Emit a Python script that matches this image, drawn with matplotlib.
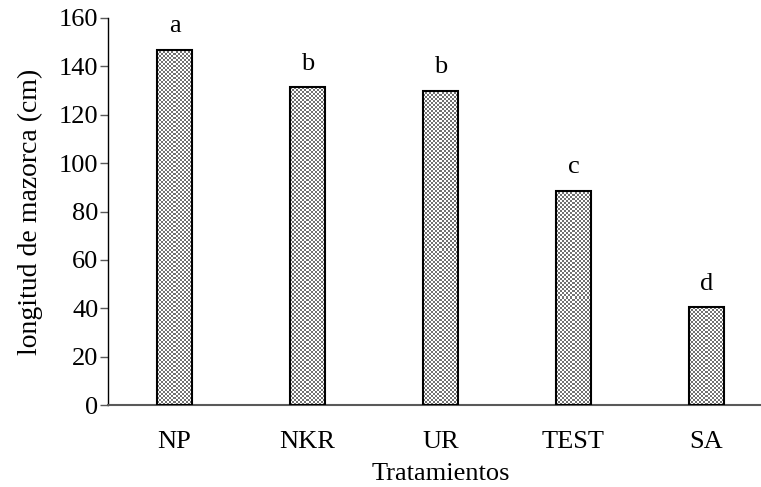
import numpy as np
import matplotlib.pyplot as plt

plt.rcParams['font.family'] = ['Liberation Serif', 'DejaVu Serif']

tratamientos = ["NP", "NKR", "UR", "TEST", "SA"]
longitud = [146.8, 131.3, 129.9, 88.5, 40.5]
letras = ["a", "b", "b", "c", "d"]

fs = 19

fig = plt.figure(figsize=(7.61, 4.87), dpi=100)
ax = fig.add_axes([108 / 761, 82 / 487, 665 / 761, 387 / 487])

x = np.arange(len(tratamientos))
bars = ax.bar(x, longitud, width=0.26, facecolor="none", edgecolor="black",
              linewidth=1.5, zorder=3)

ax.set_xlim(-0.5, len(tratamientos) - 0.5)
ax.set_ylim(0, 160)
ax.set_yticks(np.arange(0, 161, 20))
ax.set_xticks(x)
ax.set_xticklabels(tratamientos)

# fine checkerboard fill inside each bar
fig.canvas.draw()
renderer = fig.canvas.get_renderer()
for b in bars:
    ext = b.get_window_extent(renderer)
    nx = max(int(round(ext.width / 2)), 1)
    ny = max(int(round(ext.height / 2)), 1)
    yy, xx = np.indices((ny, nx))
    board = ((xx + yy) % 2).astype(float)
    im = ax.imshow(board, cmap="gray", vmin=-0.8, vmax=1.0,
                   extent=[b.get_x(), b.get_x() + b.get_width(), 0, b.get_height()],
                   interpolation="nearest", aspect="auto", zorder=2)
    im.set_clip_path(b)

ax.set_xlim(-0.5, len(tratamientos) - 0.5)
ax.set_ylim(0, 160)

for b, txt in zip(bars, letras):
    ax.annotate(txt, (b.get_x() + b.get_width() / 2, b.get_height()),
                xytext=(0, 9), textcoords="offset points",
                ha="center", va="bottom", fontsize=fs)

ax.spines["top"].set_visible(False)
ax.spines["right"].set_visible(False)
ax.spines["left"].set_linewidth(1.0)
ax.spines["bottom"].set_color("#595959")
ax.spines["bottom"].set_linewidth(1.5)

ax.tick_params(axis="y", length=6, width=1, color="#595959", labelsize=fs, pad=1)
ax.tick_params(axis="x", length=0, labelsize=fs, pad=19)

ax.set_xlabel("Tratamientos", fontsize=fs, labelpad=7)
ax.set_ylabel("longitud de mazorca (cm)", fontsize=20, labelpad=11)

fig.savefig("out.png", dpi=100)
